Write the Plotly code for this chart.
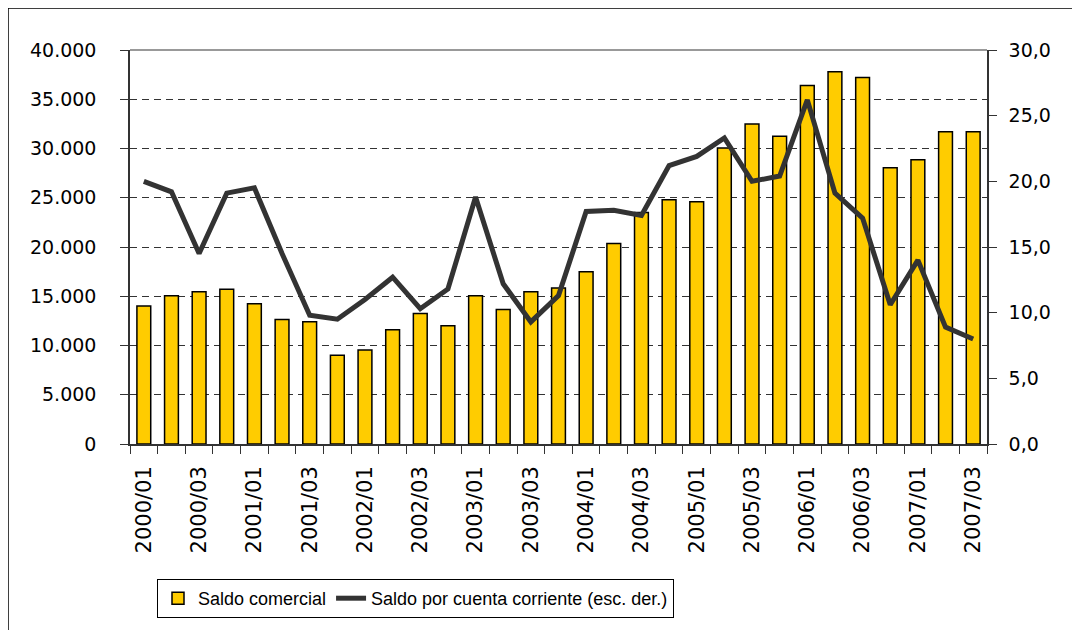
import plotly.graph_objects as go

quarters = [f"{y}/{q:02d}" for y in range(2000, 2008) for q in (1, 2, 3, 4)][:31]

saldo_comercial = [14000, 15050, 15450, 15700, 14250, 12650, 12400, 9000, 9550, 11600,
                   13250, 12000, 15050, 13650, 15450, 15850, 17500, 20350, 23500, 24800,
                   24600, 30050, 32500, 31250, 36400, 37800, 37200, 28050, 28850, 31700,
                   31700]

saldo_cc = [20.0, 19.2, 14.5, 19.1, 19.5, 14.5, 9.8, 9.5, 11.0, 12.7,
            10.3, 11.8, 18.8, 12.2, 9.3, 11.3, 17.7, 17.8, 17.4, 21.2,
            21.9, 23.3, 20.0, 20.4, 26.2, 19.1, 17.2, 10.6, 14.0, 8.9,
            8.0]

label_every = 2
xs = list(range(len(quarters)))

# page has an 8px body margin: figure origin is at window (8, 8)
W, H = 1080, 630
ML, MR, MT, MB = 122, 101, 42, 194
pw, ph = W - ML - MR, H - MT - MB

fig = go.Figure()
fig.add_trace(go.Bar(
    x=xs, y=saldo_comercial, name="Saldo comercial",
    marker=dict(color="#FFCC00", line=dict(color="#000000", width=1.5)),
    width=0.5, yaxis="y",
))
fig.add_trace(go.Scatter(
    x=xs, y=saldo_cc, name="Saldo por cuenta corriente (esc. der.)",
    mode="lines", line=dict(color="#333333", width=5), yaxis="y2",
))

tick_font = dict(family="DejaVu Sans", size=19, color="#000000")

fig.update_layout(
    width=W, height=H,
    margin=dict(l=ML, r=MR, t=MT, b=MB),
    paper_bgcolor="white", plot_bgcolor="white",
    separators=",.",
    showlegend=True,
    xaxis=dict(
        range=[-0.5, len(quarters) - 0.5],
        tickmode="array",
        tickvals=xs[::label_every],
        ticktext=quarters[::label_every],
        tickangle=-90,
        ticks="",
        ticklabelstandoff=12,
        tickfont=dict(family="DejaVu Sans", size=21, color="#000000"),
        showgrid=False, zeroline=False,
        showline=True, linecolor="#333333", linewidth=1.5,
        minor=dict(tickmode="array", tickvals=[i - 0.5 for i in range(len(quarters) + 1)],
                   ticks="outside", ticklen=8, tickcolor="#333333", tickwidth=1.2,
                   showgrid=False),
    ),
    yaxis=dict(
        range=[0, 40000], tick0=0, dtick=5000, tickformat=",d",
        ticks="outside", ticklen=8, tickcolor="#333333", tickwidth=1.2,
        ticklabelstandoff=20,
        tickfont=tick_font,
        showgrid=True, gridcolor="#333333", gridwidth=1, griddash="7px,5px",
        zeroline=False,
        showline=True, linecolor="#333333", linewidth=1.5,
    ),
    yaxis2=dict(
        range=[0, 30], tick0=0, dtick=5, tickformat=".1f",
        overlaying="y", side="right",
        ticks="outside", ticklen=8, tickcolor="#333333", tickwidth=1.2,
        ticklabelstandoff=8,
        tickfont=tick_font,
        showgrid=False, zeroline=False,
        showline=True, linecolor="#333333", linewidth=1.5,
    ),
    legend=dict(
        orientation="h",
        x=(149 - ML) / pw, xanchor="left",
        y=-(571 - MT - ph) / ph, yanchor="top",
        bordercolor="#000000", borderwidth=1, bgcolor="white",
        font=dict(family="Liberation Sans", size=18, color="#000000"),
        itemwidth=30, traceorder="normal",
    ),
    shapes=[
        # top border of plot area
        dict(type="line", xref="paper", yref="paper", x0=0, x1=1, y0=1, y1=1,
             line=dict(color="#999999", width=2)),
        # outer chart frame
        dict(type="rect", xref="paper", yref="paper",
             x0=-ML / pw, x1=(W - ML) / pw, y0=-MB / ph, y1=(ph + MT) / ph,
             line=dict(color="#000000", width=1.5)),
    ],
)

fig.write_html("out.html")
